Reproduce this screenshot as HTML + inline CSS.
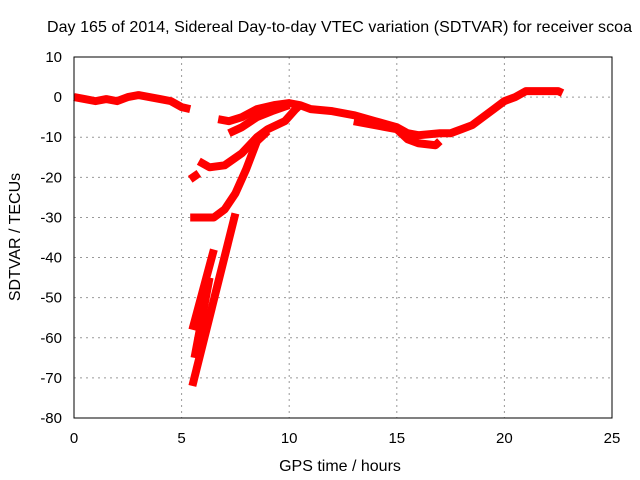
<!DOCTYPE html>
<html><head><meta charset="utf-8"><style>
body{margin:0;background:#fff;}
svg{display:block;font-family:"Liberation Sans",sans-serif;}
</style></head><body>
<svg id="chart" width="640" height="480">
<text x="47" y="32" font-size="16" text-anchor="start" textLength="585">Day 165 of 2014, Sidereal Day-to-day VTEC variation (SDTVAR) for receiver scoa</text>
<text x="340" y="471" font-size="16" text-anchor="middle">GPS time / hours</text>
<text transform="translate(20,237) rotate(-90)" font-size="16" text-anchor="middle">SDTVAR / TECUs</text>
<g id="grid"></g><g id="ticks"></g><g id="series"></g>
<rect x="74" y="57" width="538" height="361" fill="none" stroke="#000" stroke-width="1"/>
</svg>
<script>
const xTicks=[0,5,10,15,20,25];
const yTicks=[10,0,-10,-20,-30,-40,-50,-60,-70,-80];
const seriesA=[[0,0],[0.5,-0.5],[1,-1],[1.5,-0.5],[2,-1],[2.5,0],[3,0.5],[3.5,0],[4,-0.5],[4.5,-1],[5,-2.5],[5.4,-3]];
const seriesB=[[6.7,-5.5],[7.2,-6],[7.8,-5],[8.5,-3],[9.3,-2],[10,-1.5],[10.5,-2],[11,-3],[12,-3.5],[13,-4.5],[14,-6],[15,-7.5],[15.5,-9],[16,-9.5],[17,-9],[17.5,-9],[18,-8],[18.5,-7],[19,-5],[19.5,-3],[20,-1],[20.5,0],[21,1.5],[21.5,1.5],[22,1.5],[22.5,1.5],[22.7,1]];
const seriesB2=[[13,-6],[14,-7],[15,-8],[15.5,-10.5],[16,-11.5],[16.8,-12],[17,-11]];
const seriesC=[[7.2,-9],[7.8,-7.5],[8.5,-5],[9.2,-3.5],[10,-2]];
const seriesD=[[5.8,-16],[6.3,-17.5],[7,-17],[7.8,-14],[8.5,-10],[9,-8],[9.8,-6],[10.3,-3],[10.5,-2]];
const seriesE=[[5.4,-20.5],[5.8,-19]];
const seriesF=[[5.4,-30],[6.5,-30],[7,-28],[7.5,-24],[8,-18],[8.5,-11],[9,-8.5]];
const seriesG=[[5.5,-72],[7.5,-29]];
const seriesH=[[5.5,-58],[6.5,-38]];
const seriesI=[[5.6,-65],[6.3,-45]];
const allSeries=[seriesA,seriesB,seriesB2,seriesC,seriesD,seriesE,seriesF,seriesG,seriesH,seriesI];
const NS="http://www.w3.org/2000/svg";
function X(h){return 74+h*538/25;}
function Y(v){return 57+(10-v)*361/90;}
const grid=document.getElementById('grid'),ticks=document.getElementById('ticks'),ser=document.getElementById('series');
xTicks.forEach(t=>{
  if(t>0&&t<25){const l=document.createElementNS(NS,'line');
  l.setAttribute('x1',X(t));l.setAttribute('x2',X(t));l.setAttribute('y1',57);l.setAttribute('y2',418);
  l.setAttribute('stroke','#999');l.setAttribute('stroke-dasharray','2,4');
  
  
  grid.appendChild(l);}
  const tx=document.createElementNS(NS,'text');
  tx.setAttribute('x',X(t));tx.setAttribute('y',443);tx.setAttribute('font-size','15');tx.setAttribute('text-anchor','middle');
  tx.textContent=t;
  
  
  ticks.appendChild(tx);
});
yTicks.forEach(t=>{
  if(t<10&&t>-80){const l=document.createElementNS(NS,'line');
  l.setAttribute('x1',74);l.setAttribute('x2',612);l.setAttribute('y1',Y(t));l.setAttribute('y2',Y(t));
  l.setAttribute('stroke','#999');l.setAttribute('stroke-dasharray','2,4');
  
  
  grid.appendChild(l);}
  const tx=document.createElementNS(NS,'text');
  tx.setAttribute('x',62);tx.setAttribute('y',Y(t)+5);tx.setAttribute('font-size','15');tx.setAttribute('text-anchor','end');
  tx.textContent=t;
  
  
  ticks.appendChild(tx);
});
allSeries.forEach(s=>{
  const p=document.createElementNS(NS,'polyline');
  p.setAttribute('points',s.map(d=>X(d[0])+','+Y(d[1])).join(' '));
  p.setAttribute('fill','none');p.setAttribute('stroke','#ff0000');p.setAttribute('stroke-width','8');
  p.setAttribute('stroke-linejoin','round');
  
  
  ser.appendChild(p);
});
</script>
</body></html>
